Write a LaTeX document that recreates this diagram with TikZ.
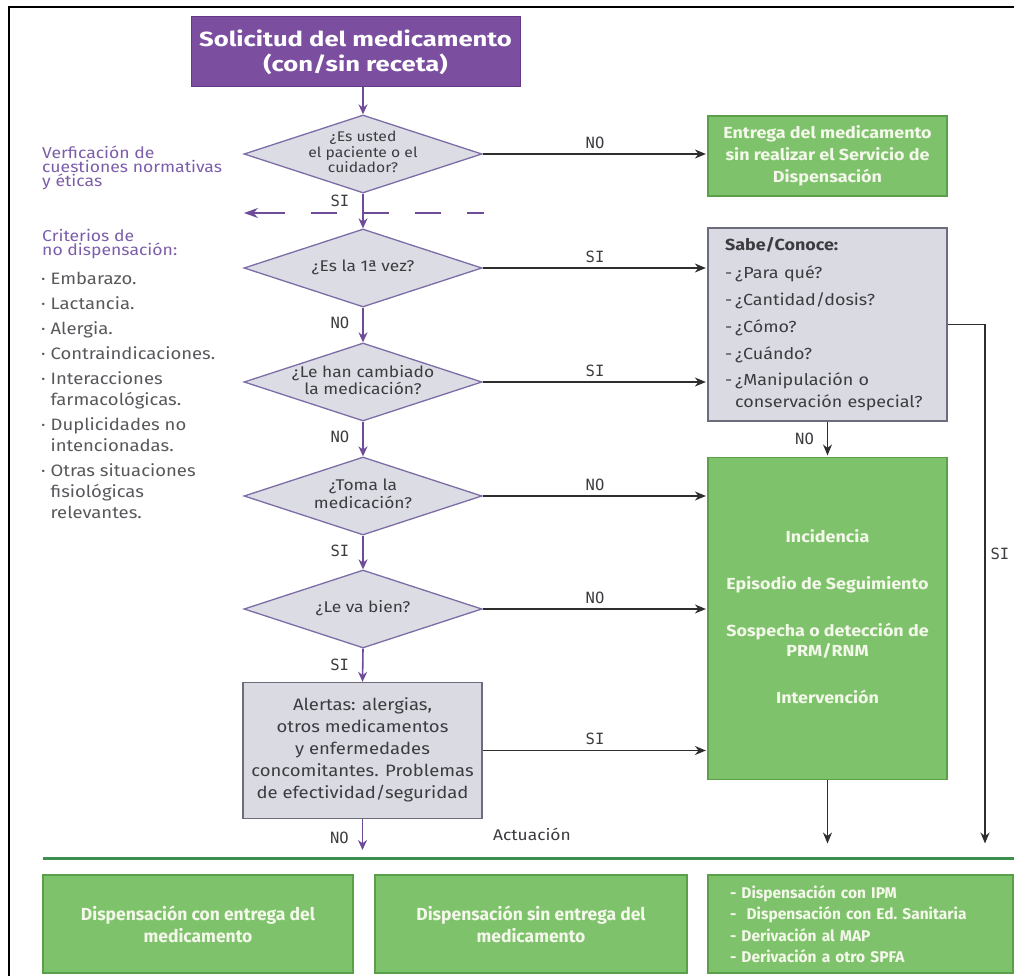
\documentclass[tikz,border=0pt]{standalone}
\usepackage{fontspec}
\setmainfont{Fira Sans}[FakeStretch=1.12]
\newfontfamily\monofont{DejaVu Sans Mono}
\newfontfamily\plainfont{Fira Sans}
\newfontfamily\widefont{Fira Sans}[FakeStretch=1.25]
\usetikzlibrary{shapes.geometric,arrows.meta}

\definecolor{purpbox}{HTML}{7B4E9F}
\definecolor{purpedge}{HTML}{653A88}
\definecolor{purpline}{HTML}{6E4C9A}
\definecolor{purptext}{HTML}{7C5DA9}
\definecolor{diafill}{HTML}{DCDCE4}
\definecolor{diaedge}{HTML}{7D6CA6}
\definecolor{boxfill}{HTML}{D9DAE2}
\definecolor{boxedge}{HTML}{6C6C7C}
\definecolor{grnfill}{HTML}{7FC26C}
\definecolor{grnedge}{HTML}{59A049}
\definecolor{grnline}{HTML}{3C8F4C}
\definecolor{inktext}{HTML}{3C3C40}
\definecolor{listtext}{HTML}{58585C}
\definecolor{arrowink}{HTML}{2E2E2E}
\definecolor{grntext}{HTML}{F4F8EA}

% text set inside a diamond without enlarging it
\newcommand{\dtext}[1]{\smash{\makebox[0pt]{\raisebox{-0.25em}{\begin{tabular}{@{}c@{}}#1\end{tabular}}}}}

\begin{document}
\begin{tikzpicture}[x=1pt,y=-1pt,
  startbox/.style={rectangle, fill=purpbox, draw=purpedge, line width=1pt,
    text=white, align=center, inner sep=0pt},
  decision/.style={diamond, fill=diafill, draw=diaedge, line width=1.3pt,
    minimum width=238pt, minimum height=78pt, inner sep=0pt, text=inktext,
    font={\fontsize{15.5}{16.5}\selectfont}},
  graybox/.style={rectangle, fill=boxfill, draw=boxedge, line width=1.3pt,
    text=inktext, inner sep=0pt},
  greenbox/.style={rectangle, fill=grnfill, draw=grnedge, line width=1.2pt,
    text=grntext, inner sep=0pt, align=center},
  flow/.style={draw=purpline, line width=1.6pt, -{Stealth[length=10pt,width=9pt]}},
  link/.style={draw=arrowink, line width=1.3pt, -{Stealth[length=11pt,width=9pt]}, shorten >=1.5pt},
  yn/.style={font={\monofont\fontsize{15.5}{16}\selectfont}, text=inktext, inner sep=0pt},
  sidenote/.style={anchor=north west, inner sep=0pt, align=left, text=purptext,
    font={\fontsize{15.7}{14}\selectfont\lineskiplimit=-20pt}}
]
\useasboundingbox (0,0) rectangle (1014,976);

% outer frame
\draw[line width=2.2pt] (9,976) -- (9,7) -- (1014,7);

% request box
\node[startbox, minimum width=329pt, minimum height=70pt,
  font={\widefont\fontsize{20.5}{25}\selectfont\bfseries}] (start) at (355.5,52)
  {Solicitud del medicamento\\(con/sin receta)};

% decisions of the main column
\node[decision, font={\fontsize{14}{14}\selectfont}] (d1) at (363,154) {\dtext{¿Es usted\\el paciente o el\\cuidador?}};
\node[decision] (d2) at (363,268) {\dtext{¿Es la 1ª vez?}};
\node[decision] (d3) at (363,382) {\dtext{¿Le han cambiado\\la medicación?}};
\node[decision] (d4) at (363,496) {\dtext{¿Toma la\\medicación?}};
\node[decision] (d5) at (363,609) {\dtext{¿Le va bien?}};

\node[graybox, minimum width=239pt, minimum height=136pt,
  font={\fontsize{16.5}{22}\selectfont}] (alert) at (362.5,750.5)
  {\begin{tabular}{@{}c@{}}Alertas: alergias,\\otros medicamentos\\y enfermedades\\concomitantes. Problemas\\de efectividad/seguridad\end{tabular}};

% right column
\node[greenbox, minimum width=239pt, minimum height=80pt,
  font={\fontsize{16}{22}\selectfont\bfseries}] (entrega) at (827.5,156)
  {Entrega del medicamento\\sin realizar el Servicio de\\Dispensación};

\node[graybox, minimum width=239pt, minimum height=193pt, text width=205pt, align=left,
  font={\fontsize{16}{22}\selectfont}] (sabe) at (827.5,324.5)
  {\begin{tabular}{@{}l@{\hspace{3pt}}l@{}}
   \multicolumn{2}{@{}l@{}}{\bfseries Sabe/Conoce:}\\[6pt]
   - & ¿Para qué?\\[5pt]
   - & ¿Cantidad/dosis?\\[5pt]
   - & ¿Cómo?\\[5pt]
   - & ¿Cuándo?\\[4pt]
   - & ¿Manipulación o\\
     & conservación especial?
   \end{tabular}};

\node[greenbox, minimum width=239pt, minimum height=322pt,
  font={\fontsize{16}{20}\selectfont\bfseries}] (big) at (827.5,618.5)
  {\begin{tabular}{@{}c@{}}Incidencia\\[27pt]Episodio de Seguimiento\\[27pt]Sospecha o detección de\\PRM/RNM\\[27pt]Intervención\end{tabular}};

% outcomes
\node[greenbox, minimum width=310pt, minimum height=98pt,
  font={\plainfont\fontsize{17.5}{22}\selectfont\bfseries}] (b1) at (198,924)
  {Dispensación con entrega del\\medicamento};
\node[greenbox, minimum width=312pt, minimum height=98pt,
  font={\plainfont\fontsize{17.5}{22}\selectfont\bfseries}] (b2) at (531,924)
  {Dispensación sin entrega del\\medicamento};
\node[greenbox, minimum width=305pt, minimum height=98pt, text width=261pt, align=left,
  font={\plainfont\fontsize{15.5}{21.5}\selectfont\bfseries}] (b3) at (860.5,924)
  {- Dispensación con IPM\\-\ \ Dispensación con Ed.\ Sanitaria\\- Derivación al MAP\\- Derivación a otro SPFA};

% side notes
\node[sidenote] (verif) at (42,146) {Verficación de\\cuestiones normativas\\y éticas};
\node[sidenote] (crit) at (42,229) {Criterios de\\no dispensación:};
\node[anchor=north west, inner sep=0pt, text=listtext,
  font={\fontsize{16.5}{21}\selectfont}] (list) at (41,270)
  {\begin{tabular}{@{}l@{\hspace{5pt}}l@{}}
   · & Embarazo.\\[4pt]
   · & Lactancia.\\[4pt]
   · & Alergia.\\[4pt]
   · & Contraindicaciones.\\[4pt]
   · & Interacciones\\
     & farmacológicas.\\[4pt]
   · & Duplicidades no\\
     & intencionadas.\\[4pt]
   · & Otras situaciones\\
     & fisiológicas\\
     & relevantes.
   \end{tabular}};

\node[inner sep=0pt, text=inktext, font={\fontsize{15.5}{16}\selectfont}] (act) at (532,834) {Actuación};

% dashed separator
\coordinate (sepR) at (484,213);
\coordinate (sepM) at (259,213);
\coordinate (sepL) at (244,213);
\draw[purpline, line width=1.6pt, dash pattern=on 26pt off 26pt] (sepM) -- (sepR);
\draw[purpline, line width=1.6pt, -{Stealth[length=14pt,width=10pt]}] (sepM) -- (sepL);

% main column flow
\draw[flow] (start.south -| d1.north) -- (d1.north);
\draw[flow] (d1.south) -- node[yn, left=13pt, pos=0.2] {SI} (d2.north);
\draw[flow] (d2.south) -- node[yn, left=13pt, pos=0.45] {NO} (d3.north);
\draw[flow] (d3.south) -- node[yn, left=13pt, pos=0.45] {NO} (d4.north);
\draw[flow] (d4.south) -- node[yn, left=13pt, pos=0.45] {SI} (d5.north);
\draw[flow] (d5.south) -- node[yn, left=13pt, pos=0.5] {SI} (alert.north);
\coordinate (actEnd) at (363,850);
\draw[flow] (alert.south) -- node[yn, left=13pt, pos=0.6] {NO} (alert.south |- actEnd);

% branches to the right column
\draw[link] (d1.east) -- node[yn, above=5pt] {NO} (d1.east -| entrega.west);
\draw[link] (d2.east) -- node[yn, above=5pt] {SI} (d2.east -| sabe.west);
\draw[link] (d3.east) -- node[yn, above=5pt] {SI} (d3.east -| sabe.west);
\draw[link] (d4.east) -- node[yn, above=5pt] {NO} (d4.east -| big.west);
\draw[link] (d5.east) -- node[yn, above=5pt] {NO} (d5.east -| big.west);
\draw[link] (alert.east) -- node[yn, above=5pt] {SI} (alert.east -| big.west);

\draw[link] (sabe.south) -- node[yn, left=13pt] {NO} (big.north);
\coordinate (rtEnd) at (985,845);
\draw[link] (sabe.east) -| node[yn, right=5pt, pos=0.72] {SI} (rtEnd);
\draw[link] (big.south) -- (big.south |- rtEnd);

% action line
\coordinate (glL) at (43,858);
\coordinate (glR) at (1014,858);
\draw[grnline, line width=3pt] (glL) -- (glR);
\end{tikzpicture}
\end{document}
